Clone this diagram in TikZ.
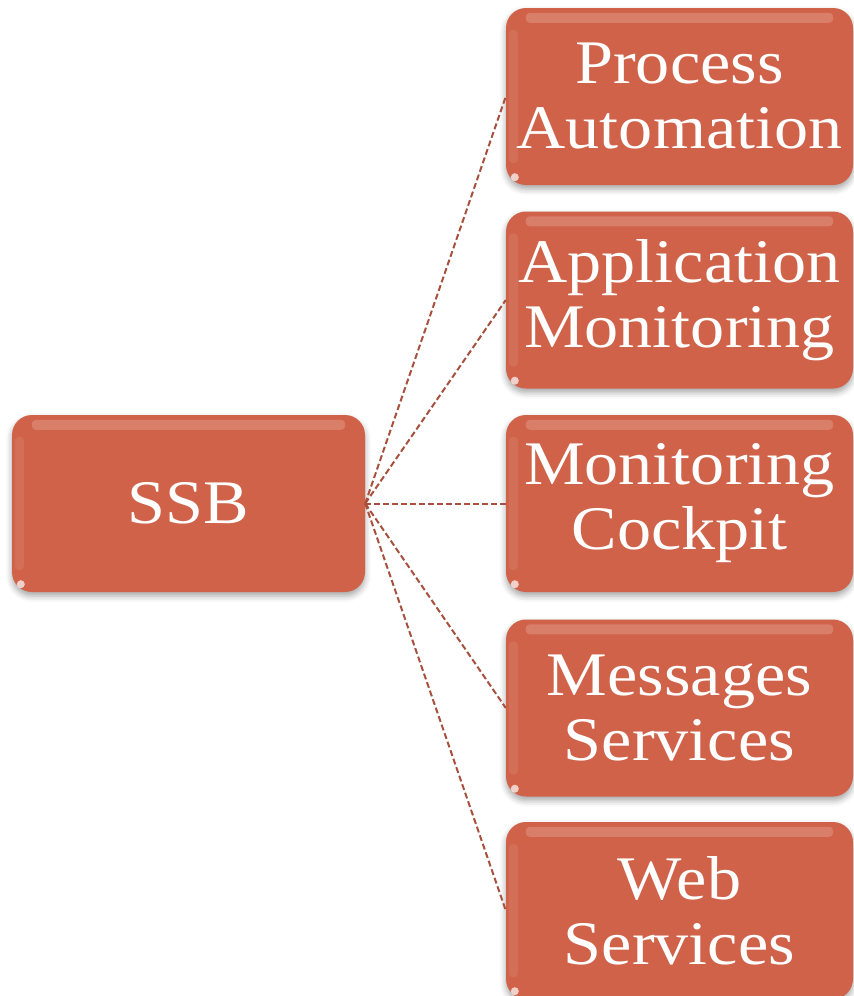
\documentclass[tikz,border=0pt]{standalone}
\usepackage{fontspec}
\setmainfont{Liberation Serif}[FakeStretch=1.1]
\usetikzlibrary{shadows.blur,calc}
\definecolor{boxfill}{RGB}{208,98,73}
\definecolor{linkcol}{RGB}{168,80,62}
\tikzset{
  gbox/.style={rounded corners=20pt, fill=boxfill, minimum width=347pt, minimum height=177pt,
    inner sep=0pt, text=white, font=\fontsize{62}{65}\selectfont, align=center,
    blur shadow={shadow xshift=0pt, shadow yshift=-4pt, shadow blur radius=6pt, shadow opacity=35}},
  link/.style={draw=linkcol, line width=2pt, dash pattern=on 6pt off 3pt}
}
\begin{document}
\begin{tikzpicture}[x=1pt,y=-1pt]
\useasboundingbox (0,0) rectangle (854,996);
\node[gbox, minimum width=353pt] (ssb) at (188.5,503.5) {SSB};
\node[gbox] (pa) at (679.5,96.5) {Process\\Automation};
\node[gbox] (am) at (679.5,300) {Application\\Monitoring};
\node[gbox] (mc) at (679.5,503.5) {Monitoring\\Cockpit};
\node[gbox] (ms) at (679.5,708) {Messages\\Services};
\node[gbox] (ws) at (679.5,910.5) {Web\\Services};
\foreach \n in {ssb,pa,am,mc,ms,ws}{
  \fill[white,opacity=0.18,rounded corners=4pt] ($(\n.north west)+(20,5)$) rectangle ($(\n.north east)+(-20,15)$);
  \fill[white,opacity=0.08,rounded corners=4pt] ($(\n.north west)+(3,22)$) rectangle ($(\n.south west)+(12,-22)$);
  \fill[white,opacity=0.7] ($(\n.south west)+(9,-8)$) circle (4pt);
}
\foreach \n in {pa,am,mc,ms,ws}{
  \draw[link] (ssb.east) -- (\n.west);
}
\end{tikzpicture}
\end{document}
